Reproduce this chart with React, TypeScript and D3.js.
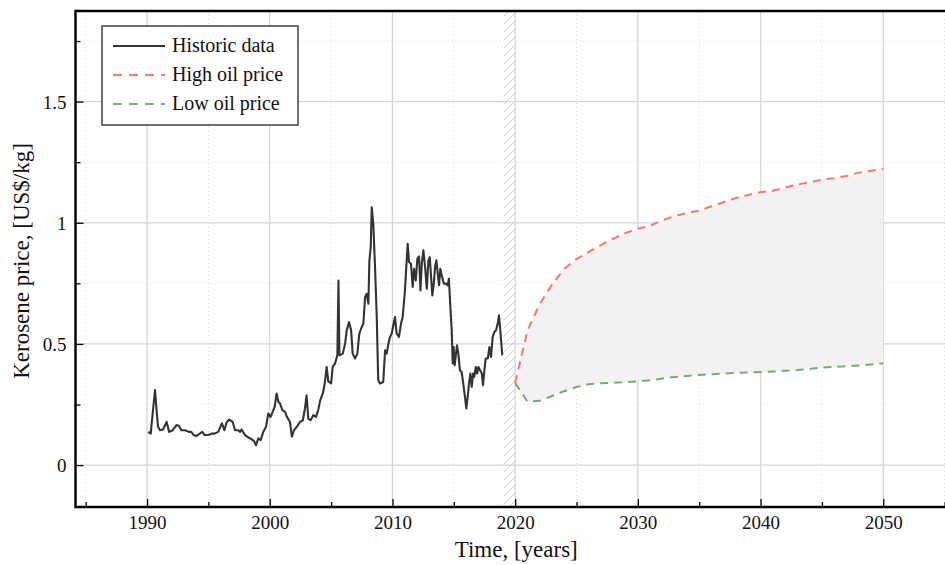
import { useRef, useEffect } from 'react';
import * as d3 from 'd3';

// historic kerosene price, [decimal year, US$/kg]
const historic: [number, number][] = [
  [1990.1, 0.137], [1990.3, 0.13], [1990.46, 0.213], [1990.65, 0.31], [1990.8, 0.213], [1990.9, 0.158],
  [1991.06, 0.144], [1991.3, 0.147], [1991.6, 0.178], [1991.8, 0.137], [1992.1, 0.144], [1992.4, 0.165],
  [1992.6, 0.162], [1992.8, 0.144], [1993.1, 0.144], [1993.4, 0.137], [1993.6, 0.137], [1993.8, 0.124],
  [1994.0, 0.12], [1994.3, 0.13], [1994.5, 0.137], [1994.7, 0.124], [1995.0, 0.124], [1995.3, 0.13],
  [1995.5, 0.13], [1995.8, 0.137], [1996.1, 0.172], [1996.3, 0.144], [1996.5, 0.178], [1996.7, 0.188],
  [1996.98, 0.178], [1997.17, 0.144], [1997.44, 0.144], [1997.57, 0.137], [1997.7, 0.147], [1997.98, 0.124],
  [1998.25, 0.114], [1998.5, 0.107], [1998.72, 0.099], [1998.88, 0.082], [1999.07, 0.11], [1999.26, 0.103],
  [1999.47, 0.137], [1999.7, 0.158], [1999.88, 0.213], [2000.07, 0.199], [2000.24, 0.22], [2000.4, 0.24],
  [2000.56, 0.295], [2000.7, 0.261], [2000.84, 0.254], [2001.03, 0.227], [2001.25, 0.22], [2001.4, 0.199],
  [2001.65, 0.178], [2001.8, 0.117], [2001.98, 0.144], [2002.2, 0.158], [2002.47, 0.178], [2002.7, 0.185],
  [2002.87, 0.234], [2003.0, 0.288], [2003.14, 0.192], [2003.33, 0.185], [2003.55, 0.206], [2003.77, 0.199],
  [2003.95, 0.227], [2004.1, 0.265], [2004.35, 0.3], [2004.5, 0.343], [2004.64, 0.405], [2004.77, 0.345],
  [2005.0, 0.337], [2005.13, 0.405], [2005.32, 0.419], [2005.51, 0.453], [2005.6, 0.762], [2005.68, 0.453],
  [2005.95, 0.46], [2006.14, 0.501], [2006.27, 0.556], [2006.46, 0.59], [2006.63, 0.556], [2006.76, 0.46],
  [2006.95, 0.44], [2007.14, 0.46], [2007.3, 0.543], [2007.5, 0.57], [2007.63, 0.584], [2007.77, 0.693],
  [2007.9, 0.707], [2008.04, 0.666], [2008.12, 0.845], [2008.23, 0.899], [2008.31, 1.064], [2008.44, 0.996],
  [2008.58, 0.817], [2008.72, 0.611], [2008.84, 0.35], [2008.99, 0.337], [2009.25, 0.343], [2009.4, 0.474],
  [2009.53, 0.46], [2009.67, 0.501], [2009.8, 0.529], [2009.94, 0.543], [2010.07, 0.577], [2010.21, 0.611],
  [2010.34, 0.543], [2010.53, 0.529], [2010.7, 0.584], [2010.83, 0.611], [2011.0, 0.707], [2011.24, 0.913],
  [2011.35, 0.838], [2011.51, 0.831], [2011.65, 0.735], [2011.76, 0.81], [2011.9, 0.762], [2012.03, 0.851],
  [2012.17, 0.861], [2012.28, 0.721], [2012.39, 0.831], [2012.52, 0.886], [2012.66, 0.817], [2012.8, 0.728],
  [2012.93, 0.845], [2013.04, 0.858], [2013.15, 0.776], [2013.25, 0.7], [2013.37, 0.749], [2013.47, 0.817],
  [2013.58, 0.845], [2013.69, 0.79], [2013.8, 0.742], [2013.9, 0.81], [2014.02, 0.783], [2014.18, 0.749],
  [2014.34, 0.749], [2014.5, 0.742], [2014.6, 0.769], [2014.72, 0.652], [2014.83, 0.556], [2014.91, 0.419],
  [2014.99, 0.487], [2015.07, 0.412], [2015.15, 0.446], [2015.26, 0.494], [2015.37, 0.46], [2015.5, 0.391],
  [2015.64, 0.384], [2015.77, 0.337], [2015.91, 0.281], [2016.02, 0.234], [2016.13, 0.281], [2016.24, 0.337],
  [2016.35, 0.378], [2016.46, 0.323], [2016.57, 0.378], [2016.67, 0.364], [2016.79, 0.405], [2016.9, 0.378],
  [2017.0, 0.405], [2017.14, 0.391], [2017.28, 0.378], [2017.38, 0.33], [2017.49, 0.391], [2017.6, 0.44],
  [2017.77, 0.44], [2017.9, 0.487], [2018.03, 0.446], [2018.17, 0.529], [2018.3, 0.549], [2018.44, 0.556],
  [2018.58, 0.584], [2018.68, 0.618], [2018.79, 0.556], [2018.95, 0.453],
];

const projectionYears = [
  2020, 2021, 2022, 2023, 2024, 2025, 2026, 2027, 2028, 2029, 2030,
  2031, 2032, 2033, 2034, 2035, 2036, 2037, 2038, 2039, 2040,
  2041, 2042, 2043, 2044, 2045, 2046, 2047, 2048, 2049, 2050,
];
const highOil = [
  0.339, 0.555, 0.665, 0.745, 0.81, 0.85, 0.88, 0.908, 0.935, 0.958, 0.975,
  0.988, 1.01, 1.028, 1.04, 1.05, 1.068, 1.085, 1.102, 1.115, 1.126,
  1.132, 1.145, 1.158, 1.168, 1.178, 1.184, 1.193, 1.207, 1.215, 1.222,
];
const lowOil = [
  0.339, 0.262, 0.265, 0.285, 0.305, 0.322, 0.334, 0.338, 0.34, 0.342, 0.345,
  0.35, 0.357, 0.364, 0.368, 0.372, 0.375, 0.378, 0.38, 0.382, 0.384,
  0.386, 0.389, 0.392, 0.397, 0.402, 0.405, 0.408, 0.411, 0.415, 0.42,
];

const xMajorTicks = [1990, 2000, 2010, 2020, 2030, 2040, 2050];
const xMinorTicks = [1985, 1995, 2005, 2015, 2025, 2035, 2045, 2055];
const yMajorTicks = [0, 0.5, 1, 1.5];
const yMinorTicks = [0.25, 0.75, 1.25, 1.75];
const yTickLabels = ['0', '0.5', '1', '1.5'];
const gapYears = [2019.05, 2020];
const legendLabels = ['Historic data', 'High oil price', 'Low oil price'];

const FONT = "'Liberation Serif', 'Times New Roman', serif";
const DARK = '#333333';
const RED = '#f47a6c';
const GREEN = '#78aa78';

export default function App() {
  const svgRef = useRef<SVGSVGElement>(null);

  useEffect(() => {
    const svg = d3.select(svgRef.current);
    if (svg.empty()) return;
    svg.selectAll('*').remove();

    const left = 75.5, right = 952, top = 11, bottom = 507;
    const x = d3.scaleLinear().domain([1984.17, 2055.6]).range([left, right]);
    const y = d3.scaleLinear().domain([-0.173, 1.874]).range([bottom, top]);

    const defs = svg.append('defs');
    defs.append('clipPath').attr('id', 'plot-clip')
      .append('rect').attr('x', left).attr('y', top).attr('width', right - left).attr('height', bottom - top);

    const hatch = defs.append('pattern')
      .attr('id', 'gap-hatch')
      .attr('patternUnits', 'userSpaceOnUse')
      .attr('width', 8).attr('height', 8);
    hatch.append('path')
      .attr('d', 'M-1,1 L1,-1 M0,8 L8,0 M7,9 L9,7')
      .attr('stroke', '#cfcfcf')
      .attr('stroke-width', 1);

    const plot = svg.append('g').attr('clip-path', 'url(#plot-clip)');

    // grid
    plot.selectAll('.vminor').data(xMinorTicks).enter().append('line')
      .attr('x1', d => x(d)).attr('x2', d => x(d)).attr('y1', top).attr('y2', bottom)
      .attr('stroke', '#dcdcdc').attr('stroke-width', 1).attr('stroke-dasharray', '1,3');
    plot.selectAll('.hminor').data(yMinorTicks).enter().append('line')
      .attr('x1', left).attr('x2', right).attr('y1', d => y(d)).attr('y2', d => y(d))
      .attr('stroke', '#dcdcdc').attr('stroke-width', 1).attr('stroke-dasharray', '1,3');
    plot.selectAll('.vmajor').data(xMajorTicks).enter().append('line')
      .attr('x1', d => x(d)).attr('x2', d => x(d)).attr('y1', top).attr('y2', bottom)
      .attr('stroke', '#d6d6d6').attr('stroke-width', 1.3);
    plot.selectAll('.hmajor').data(yMajorTicks).enter().append('line')
      .attr('x1', left).attr('x2', right).attr('y1', d => y(d)).attr('y2', d => y(d))
      .attr('stroke', '#d6d6d6').attr('stroke-width', 1.3);

    // band between scenarios
    const band = d3.area<number>()
      .x((_, i) => x(projectionYears[i]))
      .y0((_, i) => y(lowOil[i]))
      .y1(d => y(d));
    plot.append('path').datum(highOil).attr('fill', '#f2f2f2').attr('d', band);

    // hatched gap between data and projections
    plot.append('rect')
      .attr('x', x(gapYears[0])).attr('width', x(gapYears[1]) - x(gapYears[0]))
      .attr('y', top).attr('height', bottom - top)
      .attr('fill', 'url(#gap-hatch)');

    const line = d3.line<[number, number]>().x(d => x(d[0])).y(d => y(d[1]));
    plot.append('path').datum(historic)
      .attr('fill', 'none').attr('stroke', DARK).attr('stroke-width', 2.1).attr('stroke-linejoin', 'round')
      .attr('d', line);

    const scen = [
      { values: highOil, color: RED },
      { values: lowOil, color: GREEN },
    ];
    scen.forEach(s => {
      plot.append('path')
        .datum(projectionYears.map((yr, i) => [yr, s.values[i]] as [number, number]))
        .attr('fill', 'none').attr('stroke', s.color).attr('stroke-width', 2)
        .attr('stroke-dasharray', '8,6')
        .attr('d', line);
    });

    // ticks (inward)
    const xMajorAxis = d3.axisBottom(x).tickValues(xMajorTicks).tickSize(-8).tickPadding(9)
      .tickFormat(d3.format('d') as any);
    const gx = svg.append('g').attr('transform', `translate(0,${bottom})`).call(xMajorAxis);
    const xMinorAxis = d3.axisBottom(x).tickValues(xMinorTicks).tickSize(-5).tickFormat('' as any);
    const gx2 = svg.append('g').attr('transform', `translate(0,${bottom})`).call(xMinorAxis);

    const yMajorAxis = d3.axisLeft(y).tickValues(yMajorTicks).tickSize(-8).tickPadding(9)
      .tickFormat((_, i) => yTickLabels[i]);
    const gy = svg.append('g').attr('transform', `translate(${left},0)`).call(yMajorAxis);
    const yMinorAxis = d3.axisLeft(y).tickValues(yMinorTicks).tickSize(-5).tickFormat('' as any);
    const gy2 = svg.append('g').attr('transform', `translate(${left},0)`).call(yMinorAxis);

    [gx, gx2, gy, gy2].forEach(g => {
      g.select('.domain').remove();
      g.selectAll('.tick line').attr('stroke', '#000').attr('stroke-width', 1.3);
      g.selectAll('.tick text')
        .attr('fill', '#111').attr('font-family', FONT).attr('font-size', 19);
    });
    gy.selectAll('.tick text').attr('dy', '0.34em');

    // spines
    svg.append('path')
      .attr('d', `M${right},${top} L${left},${top} L${left},${bottom} L${right},${bottom}`)
      .attr('fill', 'none').attr('stroke', '#000').attr('stroke-width', 2.4);

    // legend
    const lg = svg.append('g');
    lg.append('rect')
      .attr('x', 102).attr('y', 26).attr('width', 196).attr('height', 99)
      .attr('fill', '#fff').attr('stroke', '#111').attr('stroke-width', 1.2);
    const legendStyles = [
      { color: DARK, dash: null },
      { color: RED, dash: '9,7' },
      { color: GREEN, dash: '9,7' },
    ];
    legendLabels.forEach((label, i) => {
      const ly = 46 + i * 29;
      lg.append('line')
        .attr('x1', 113).attr('x2', 165).attr('y1', ly).attr('y2', ly)
        .attr('stroke', legendStyles[i].color).attr('stroke-width', 2)
        .attr('stroke-dasharray', legendStyles[i].dash);
      lg.append('text')
        .attr('x', 172).attr('y', ly + 6)
        .attr('font-family', FONT).attr('font-size', 20).attr('fill', '#111')
        .text(label);
    });

    // axis labels
    svg.append('text')
      .attr('x', (left + 945) / 2 + 6).attr('y', 557)
      .attr('text-anchor', 'middle')
      .attr('font-family', FONT).attr('font-size', 23).attr('fill', '#111')
      .text('Time, [years]');
    svg.append('text')
      .attr('transform', `translate(29,${(top + bottom) / 2 + 2}) rotate(-90)`)
      .attr('text-anchor', 'middle')
      .attr('font-family', FONT).attr('font-size', 23).attr('fill', '#111')
      .text('Kerosene price, [US$/kg]');
  }, []);

  return (
    <svg
      ref={svgRef}
      width={945}
      height={565}
      style={{ position: 'absolute', left: 0, top: 0, background: '#fff' }}
    />
  );
}
